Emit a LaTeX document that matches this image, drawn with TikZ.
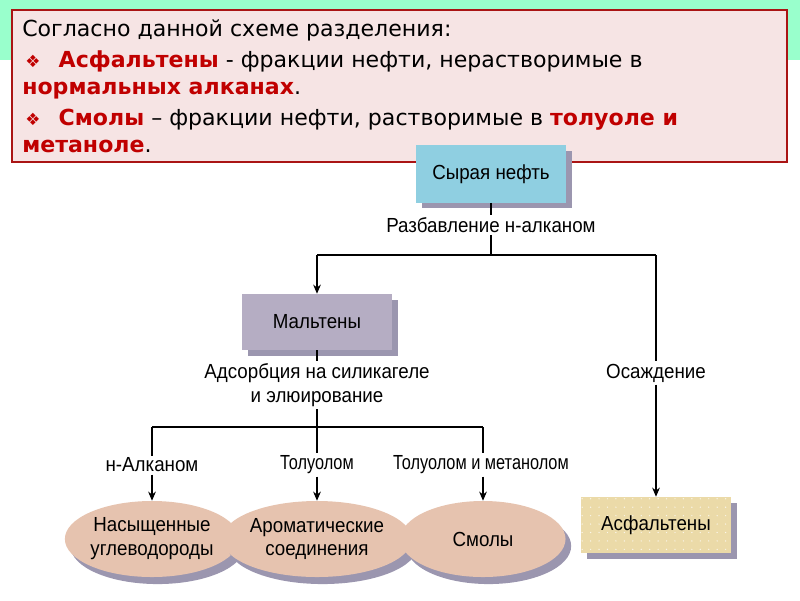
\documentclass[tikz,border=0pt]{standalone}
\usepackage{fontspec}
\setmainfont{DejaVu Sans}
\newfontfamily\diafont{Liberation Sans}[FakeStretch=0.92]
\newfontfamily\diafontnarrow{Liberation Sans}[FakeStretch=0.8]
\usetikzlibrary{arrows.meta,shadows,shapes.geometric,patterns.meta}

\definecolor{mint}{RGB}{153,255,204}
\definecolor{notepink}{RGB}{246,228,228}
\definecolor{noteframe}{RGB}{170,20,20}
\definecolor{hred}{RGB}{192,0,0}
\definecolor{crudeblue}{RGB}{143,207,225}
\definecolor{maltgray}{RGB}{181,173,195}
\definecolor{fracpeach}{RGB}{230,195,175}
\definecolor{asphsand}{RGB}{235,218,168}
\definecolor{shadegray}{RGB}{155,150,175}

\newcommand{\notebullet}{{\fontsize{12}{12}\selectfont\textcolor{hred}{❖}}\hspace{13pt}}

\begin{document}
\begin{tikzpicture}[x=0.025cm,y=-0.025cm,
  hdr/.style={anchor=base west,inner sep=0pt,font=\fontsize{15.7}{19}\selectfont},
  stage/.style={minimum width=3.75cm,minimum height=1.4cm,inner sep=0pt,
    font=\diafont\fontsize{14.5}{17}\selectfont,
    drop shadow={shadow xshift=4pt,shadow yshift=-4pt,fill=shadegray,opacity=1}},
  frac/.style={ellipse,fill=fracpeach,minimum width=4.125cm,minimum height=1.9cm,inner sep=0pt,
    align=center,font=\diafont\fontsize{14.5}{17}\selectfont,
    drop shadow={shadow xshift=4pt,shadow yshift=-5pt,fill=shadegray,opacity=1}},
  lbl/.style={inner sep=1.5pt,align=center,font=\diafont\fontsize{14.5}{17.5}\selectfont},
  line/.style={draw=black,line width=0.8pt},
  arr/.style={line,-{Stealth[length=6.5pt,width=5.5pt]}}]
\useasboundingbox (0,0) rectangle (800,600);

% Background
\fill[mint] (0,0) rectangle (800,60);

% Note box
\draw[fill=notepink,draw=noteframe,line width=1.5pt] (12,10) rectangle (787,162);
\node[hdr] (l1) at (22,36) {Согласно данной схеме разделения:};
\node[hdr] (l2) at (25,67) {\notebullet\textcolor{hred}{\textbf{Асфальтены}} - фракции нефти, нерастворимые в};
\node[hdr] (l3) at (22,94) {\textcolor{hred}{\textbf{нормальных алканах}}.};
\node[hdr] (l4) at (25,125) {\notebullet\textcolor{hred}{\textbf{Смолы}} – фракции нефти, растворимые в \textcolor{hred}{\textbf{толуоле и}}};
\node[hdr] (l5) at (22,152) {\textcolor{hred}{\textbf{метаноле}}.};

% Stages
\node[stage,fill=crudeblue,minimum height=1.425cm] (crude) at (491,174) {Сырая нефть};
\node[stage,fill=maltgray] (malt) at (317,322) {Мальтены};
\node[stage,fill=asphsand,postaction={pattern={Dots[radius=0.5pt,distance=6pt]},pattern color=white!75!asphsand}] (asph) at (656,525) {Асфальтены};

% Fractions
\node[frac] (sat) at (152,539) {Насыщенные\\углеводороды};
\node[frac] (arom) at (317,539) {Ароматические\\соединения};
\node[frac] (resin) at (483,539) {Смолы};

% Process labels
\node[lbl] (dil) at (491,225) {Разбавление н-алканом};
\node[lbl] (ads) at (317,385) {Адсорбция на силикагеле\\и элюирование};
\node[lbl] (prec) at (656,373) {Осаждение};
\node[lbl] (sol1) at (152,465) {н-Алканом};
\node[lbl,font=\diafontnarrow\fontsize{14.5}{17.5}\selectfont] (sol2) at (317,465) {Толуолом};
\node[lbl,font=\diafontnarrow\fontsize{14.5}{17.5}\selectfont] (sol3) at (481,465) {Толуолом и метанолом};

% Junctions
\coordinate (jc) at (491,255);
\coordinate (jm) at (317,255);
\coordinate (ja) at (656,255);
\coordinate (jb) at (317,427);
\coordinate (jbl) at (152,427);
\coordinate (jbr) at (483,427);

% Connectors
\draw[line] (crude) -- (dil);
\draw[line] (dil) -- (jc);
\draw[line] (jm) -- (ja);
\draw[arr] (jm) -- (malt);
\draw[line] (ja) -- (prec);
\draw[arr] (prec) -- (asph);
\draw[line] (malt) -- (ads);
\draw[line] (ads) -- (jb);
\draw[line] (jbl) -- (jbr);
\draw[line] (jbl) -- (sol1);
\draw[line] (jb) -- (sol2);
\draw[line] (jbr) -- (jbr |- sol3.north);
\draw[arr] (sol1) -- (sat);
\draw[arr] (sol2) -- (arom);
\draw[arr] (jbr |- sol3.south) -- (resin);

\end{tikzpicture}
\end{document}
